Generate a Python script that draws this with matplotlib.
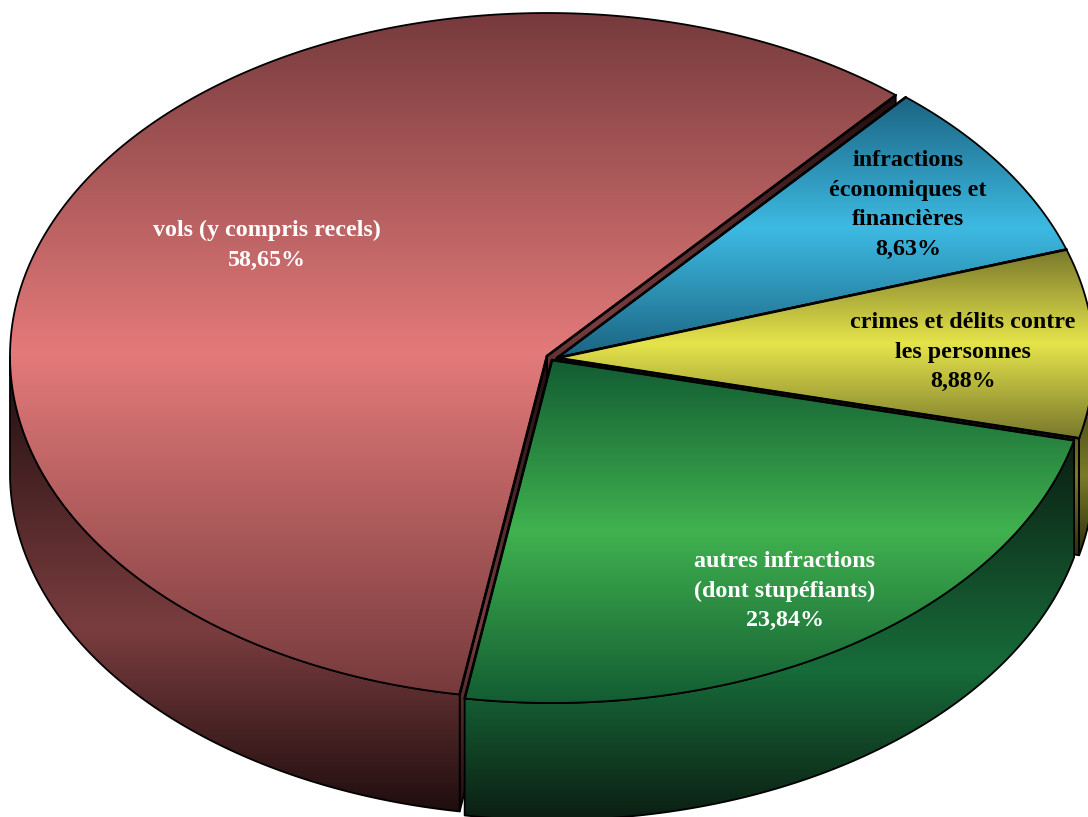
import numpy as np
import matplotlib
matplotlib.use("Agg")
import matplotlib.pyplot as plt
from matplotlib.patches import Polygon

# data, clockwise starting from the top-right cut
labels = ["infractions\néconomiques et\nfinancières",
          "crimes et délits contre\nles personnes",
          "autres infractions\n(dont stupéfiants)",
          "vols (y compris recels)"]
values = [8.63, 8.88, 23.84, 58.65]
top_dark = ["#1b6381", "#77772c", "#125c32", "#763a3c"]
top_bright = ["#3dbae2", "#e6e44a", "#40b24f", "#e47a7a"]
side_dark = ["#0c2a38", "#2c2c0c", "#0b1d12", "#1f0d0e"]
side_bright = ["#1b6381", "#7a7a2a", "#176c3a", "#7a3d3f"]
text_colors = ["black", "black", "white", "white"]

# layout (pixels)
W, H = 1088, 817
CX, CY = 553, 359
RX, RY = 537, 343
DEPTH = 117
START = 49.5
explode = [(4, -1), (4, -1), (-1, 1), (-6, -3)]
label_pos = [(908, 205), (963, 352), (785, 591), (267, 245)]


def rim(t, ox, oy, dy=0):
    t = np.radians(t)
    return np.column_stack([CX + ox + RX * np.cos(t), CY + oy + dy - RY * np.sin(t)])


def grad_fill(ax, verts, dark, bright, z, center=0.5, lw=1.3):
    poly = Polygon(verts, closed=True, facecolor='none', edgecolor='black',
                   lw=lw, zorder=z + 0.5, joinstyle='round')
    ax.add_patch(poly)
    back = Polygon(verts, closed=True, facecolor='none', edgecolor='none', zorder=z)
    ax.add_patch(back)
    y0, y1 = verts[:, 1].min(), verts[:, 1].max()
    x0, x1 = verts[:, 0].min(), verts[:, 0].max()
    t = np.linspace(0, 1, 300)
    w = np.where(t < center, t / center, (1 - t) / (1 - center))
    d = np.array(matplotlib.colors.to_rgb(dark))
    b = np.array(matplotlib.colors.to_rgb(bright))
    cols = d + (b - d) * w[:, None]
    img = ax.imshow(cols[:, None, :], extent=(x0 - 1, x1 + 1, y1 + 1, y0 - 1),
                    aspect='auto', interpolation='bilinear', zorder=z)
    img.set_clip_path(back)


fig = plt.figure(figsize=(W / 100, H / 100), dpi=100)
ax = fig.add_axes([0, 0, 1, 1])
ax.axis('off')

# slice angles (counter-clockwise intervals)
spans = []
a = START
for v in values:
    e = a
    s = a - v / sum(values) * 360
    spans.append((s, e))
    a = s

# draw order: red (big, back) first, then blue, yellow, green
order = [3, 0, 1, 2]
z = 1
for i in order:
    s, e = spans[i]
    ox, oy = explode[i]
    c = np.array([[CX + ox, CY + oy]])
    cb = c + [0, DEPTH]
    # radial walls that face the viewer
    for ang, sign in ((s, -1), (e, 1)):
        if np.sin(np.radians(ang + sign * 90)) < 0:
            rt = rim([ang], ox, oy)
            rb = rim([ang], ox, oy, DEPTH)
            wall = np.vstack([c, rt, rb, cb])
            grad_fill(ax, wall, side_dark[i], side_bright[i], z, center=0.6)
            z += 1
    # outer side
    for k in (-1, 0, 1):
        lo = max(s, 180 + 360 * k)
        hi = min(e, 360 + 360 * k)
        if hi > lo:
            tt = np.linspace(lo, hi, 200)
            side = np.vstack([rim(tt, ox, oy), rim(tt[::-1], ox, oy, DEPTH)])
            grad_fill(ax, side, side_dark[i], side_bright[i], z, center=0.6)
            z += 1
    # top face
    tt = np.linspace(s, e, 300)
    top = np.vstack([c, rim(tt, ox, oy)])
    grad_fill(ax, top, top_dark[i], top_bright[i], z, center=0.5)
    for ang in (s, e):
        p = rim([ang], ox, oy)[0]
        ax.plot([c[0, 0], p[0]], [c[0, 1], p[1]], color='black', lw=1.9,
                zorder=z + 0.6, solid_capstyle='round')
    z += 1

for i in range(len(values)):
    pct = f"{values[i]:.2f}%".replace('.', ',')
    ax.text(label_pos[i][0], label_pos[i][1], labels[i] + "\n" + pct,
            ha='center', va='center', color=text_colors[i], fontsize=17.3,
            fontweight='bold', family='Liberation Serif', linespacing=1.55,
            zorder=100)

ax.set_xlim(0, W)
ax.set_ylim(H, 0)
fig.savefig("out.png", dpi=100)
